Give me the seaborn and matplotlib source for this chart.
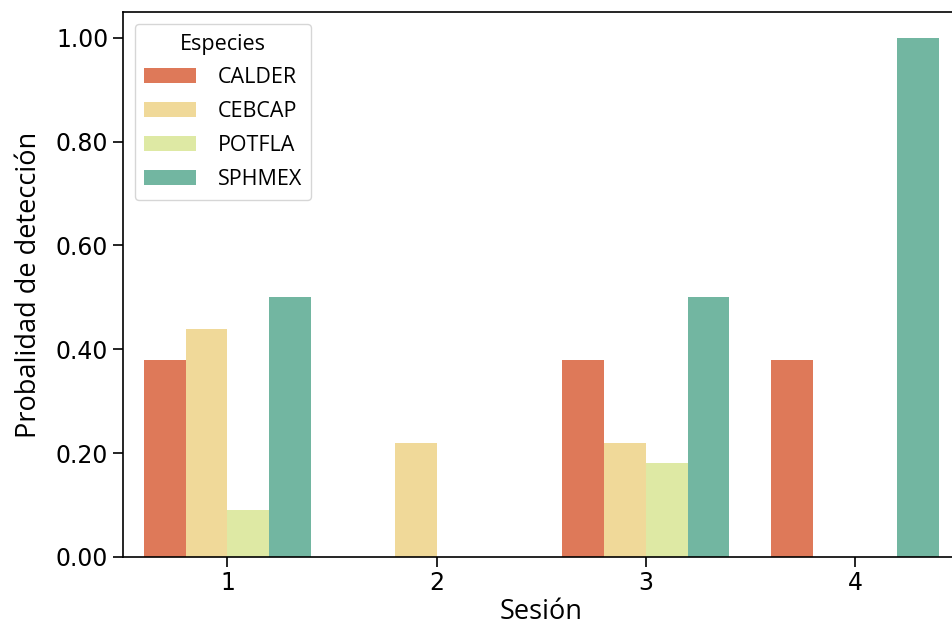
import matplotlib
matplotlib.use("Agg")
import matplotlib.pyplot as plt
import matplotlib.ticker as mticker
import seaborn as sns
import pandas as pd

sessions = ["1", "2", "3", "4"]
species = ["CALDER", "CEBCAP", "POTFLA", "SPHMEX"]
calder = [0.38, 0.0, 0.38, 0.38]
cebcap = [0.44, 0.22, 0.22, 0.0]
potfla = [0.09, 0.0, 0.18, 0.0]
sphmex = [0.50, 0.0, 0.50, 1.00]

rows = []
for sp, vals in zip(species, [calder, cebcap, potfla, sphmex]):
    for s, v in zip(sessions, vals):
        rows.append({"Sesión": s, "Especies": sp, "Prob": v})
df = pd.DataFrame(rows)

fig = plt.figure(figsize=(9.52, 6.32), dpi=100)
ax = fig.add_axes([0.129, 0.119, 0.879, 0.862])
sns.barplot(data=df, x="Sesión", y="Prob", hue="Especies", order=sessions,
            hue_order=species, palette="Spectral", ax=ax, errorbar=None)
ax.set_ylim(0, 1.05)
ax.yaxis.set_major_locator(mticker.MultipleLocator(0.2))
ax.yaxis.set_major_formatter(mticker.FormatStrFormatter("%.2f"))
ax.set_xlabel("Sesión", fontsize=19.5, family="Open Sans", labelpad=2)
ax.set_ylabel("Probalidad de detección", fontsize=19.5, family="Open Sans", labelpad=9)
ax.tick_params(labelsize=17, length=7, width=1.2)
for sp in ax.spines.values():
    sp.set_linewidth(1.2)
leg = ax.legend(title="Especies", loc="upper left",
                prop={"family": "Open Sans", "size": 15.5},
                title_fontproperties={"family": "Open Sans", "size": 15.5},
                borderpad=0.45, labelspacing=0.6, handlelength=2.4, handletextpad=1.0,
                borderaxespad=0.55)
fig.savefig("out.png", dpi=100)
